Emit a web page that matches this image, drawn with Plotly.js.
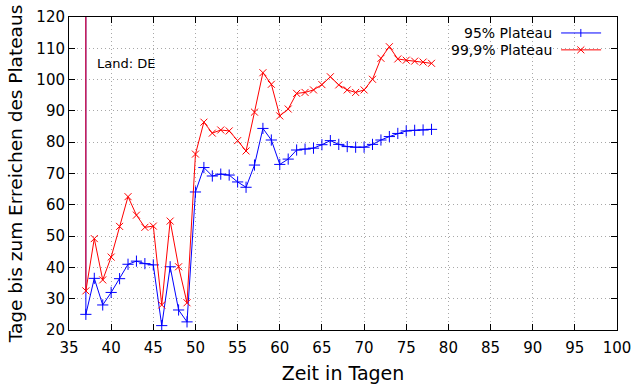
<!DOCTYPE html>
<html>
<head>
<meta charset="utf-8">
<script src="https://cdn.plot.ly/plotly-3.0.1.min.js"></script>
<style>html,body{margin:0;padding:0;background:#fff;}#chart{width:640px;height:384px;}</style>
</head>
<body>
<div id="chart"></div>
<script>
// Days (x) — first entry at day 37 is the off-scale start value
const days = [37, 37, 38, 39, 40, 41, 42, 43, 44, 45, 46, 47, 48, 49, 50, 51, 52, 53, 54, 55, 56, 57,
  58, 59, 60, 61, 62, 63, 64, 65, 66, 67, 68, 69, 70, 71, 72, 73, 74, 75, 76, 77, 78];
const plateau95 = [200, 25, 36.5, 28, 32, 36.4, 41, 42, 41.2, 40.8, 21.4, 40.2, 26.4, 22.6, 64.1, 71.9, 69.2, 69.8, 69.5, 67.3, 65.6, 72.7,
  84.4, 80.7, 72.9, 74.6, 77.5, 77.8, 78.1, 79.2, 80.5, 79.3, 78.6, 78.4, 78.4, 79.3, 80.7, 81.8, 82.8, 83.6, 83.8, 83.9, 84.1];
const plateau999 = [200, 32.5, 49.2, 36, 43.3, 53.1, 62.6, 56.7, 52.8, 53.2, 28, 54.8, 40.2, 28.7, 76.2, 86.4, 82.9, 83.9, 83.6, 80.5, 77.2, 89.6,
  102.2, 98.5, 88.4, 90.6, 95.6, 95.9, 96.7, 98.4, 100.9, 98.3, 96.7, 95.9, 96.7, 100.1, 106.8, 110.5, 106.6, 106.2, 105.9, 105.6, 105.2];
const seriesNames = ["95% Plateau", "99,9% Plateau"];
const xTicks = [35, 40, 45, 50, 55, 60, 65, 70, 75, 80, 85, 90, 95, 100];
const yTicks = [20, 30, 40, 50, 60, 70, 80, 90, 100, 110, 120];

const FONT = "DejaVu Sans";
const traces = [
  {x: days, y: plateau95, type: "scatter", mode: "lines+markers", name: seriesNames[0], showlegend: false,
   line: {color: "#0000ff", width: 1}, marker: {symbol: "cross-thin", size: 8, line: {color: "#0000ff", width: 1}}},
  {x: days, y: plateau999, type: "scatter", mode: "lines+markers", name: seriesNames[1], showlegend: false,
   line: {color: "#ff0000", width: 1}, marker: {symbol: "x-thin", size: 7, line: {color: "#ff0000", width: 1}}}
];

// legend built from layout elements (text left, sample right, like the original)
const lgTextX = 0.885, lgL = 0.898, lgR = 0.971, lgM = 0.934, lgY = [0.949, 0.895];
const shapes = [];
const annotations = [
  {x: 38.1, y: 105, xref: "x", yref: "y", text: "Land: DE", showarrow: false, xanchor: "left", yanchor: "middle",
   font: {family: FONT, size: 13, color: "#000"}}
];
const colors = ["#0000ff", "#ff0000"];
seriesNames.forEach((n, i) => {
  annotations.push({x: lgTextX, y: lgY[i], xref: "paper", yref: "paper", text: n, showarrow: false,
    xanchor: "right", yanchor: "middle", font: {family: FONT, size: 14, color: "#000"}});
  shapes.push({type: "line", xref: "paper", yref: "paper", x0: lgL, x1: lgR, y0: lgY[i], y1: lgY[i],
    line: {color: colors[i], width: 1}});
  if (i === 0) {
    shapes.push({type: "line", xref: "paper", yref: "paper", x0: lgM, x1: lgM, y0: lgY[i] - 0.0128, y1: lgY[i] + 0.0128,
      line: {color: colors[i], width: 1}});
  } else {
    shapes.push({type: "line", xref: "paper", yref: "paper", x0: lgM - 0.0064, x1: lgM + 0.0064, y0: lgY[i] - 0.011, y1: lgY[i] + 0.011,
      line: {color: colors[i], width: 1}});
    shapes.push({type: "line", xref: "paper", yref: "paper", x0: lgM - 0.0064, x1: lgM + 0.0064, y0: lgY[i] + 0.011, y1: lgY[i] - 0.011,
      line: {color: colors[i], width: 1}});
  }
});

const axisCommon = {
  showline: true, linecolor: "#000", linewidth: 1, mirror: "allticks",
  ticks: "inside", ticklen: 6, tickcolor: "#000", tickwidth: 1,
  showgrid: true, gridcolor: "#a8a8a8", griddash: "1px,3px", gridwidth: 1,
  zeroline: false, tickfont: {family: FONT, size: 15, color: "#000"}
};
const layout = {
  width: 640, height: 384,
  margin: {l: 69, r: 23, t: 17, b: 54},
  paper_bgcolor: "#fff", plot_bgcolor: "#fff",
  showlegend: false,
  xaxis: Object.assign({}, axisCommon, {range: [35, 100], tickvals: xTicks, ticktext: xTicks.map(String),
    ticklabelstandoff: 4,
    title: {text: "Zeit in Tagen", font: {family: FONT, size: 19, color: "#000"}, standoff: 10}}),
  yaxis: Object.assign({}, axisCommon, {range: [20, 120], tickvals: yTicks, ticktext: yTicks.map(String),
    title: {text: "Tage bis zum Erreichen des Plateaus", font: {family: FONT, size: 18.5, color: "#000"}, standoff: 8}}),
  annotations: annotations,
  shapes: shapes
};
Plotly.newPlot("chart", traces, layout, {displayModeBar: false, staticPlot: true});
</script>
</body>
</html>
